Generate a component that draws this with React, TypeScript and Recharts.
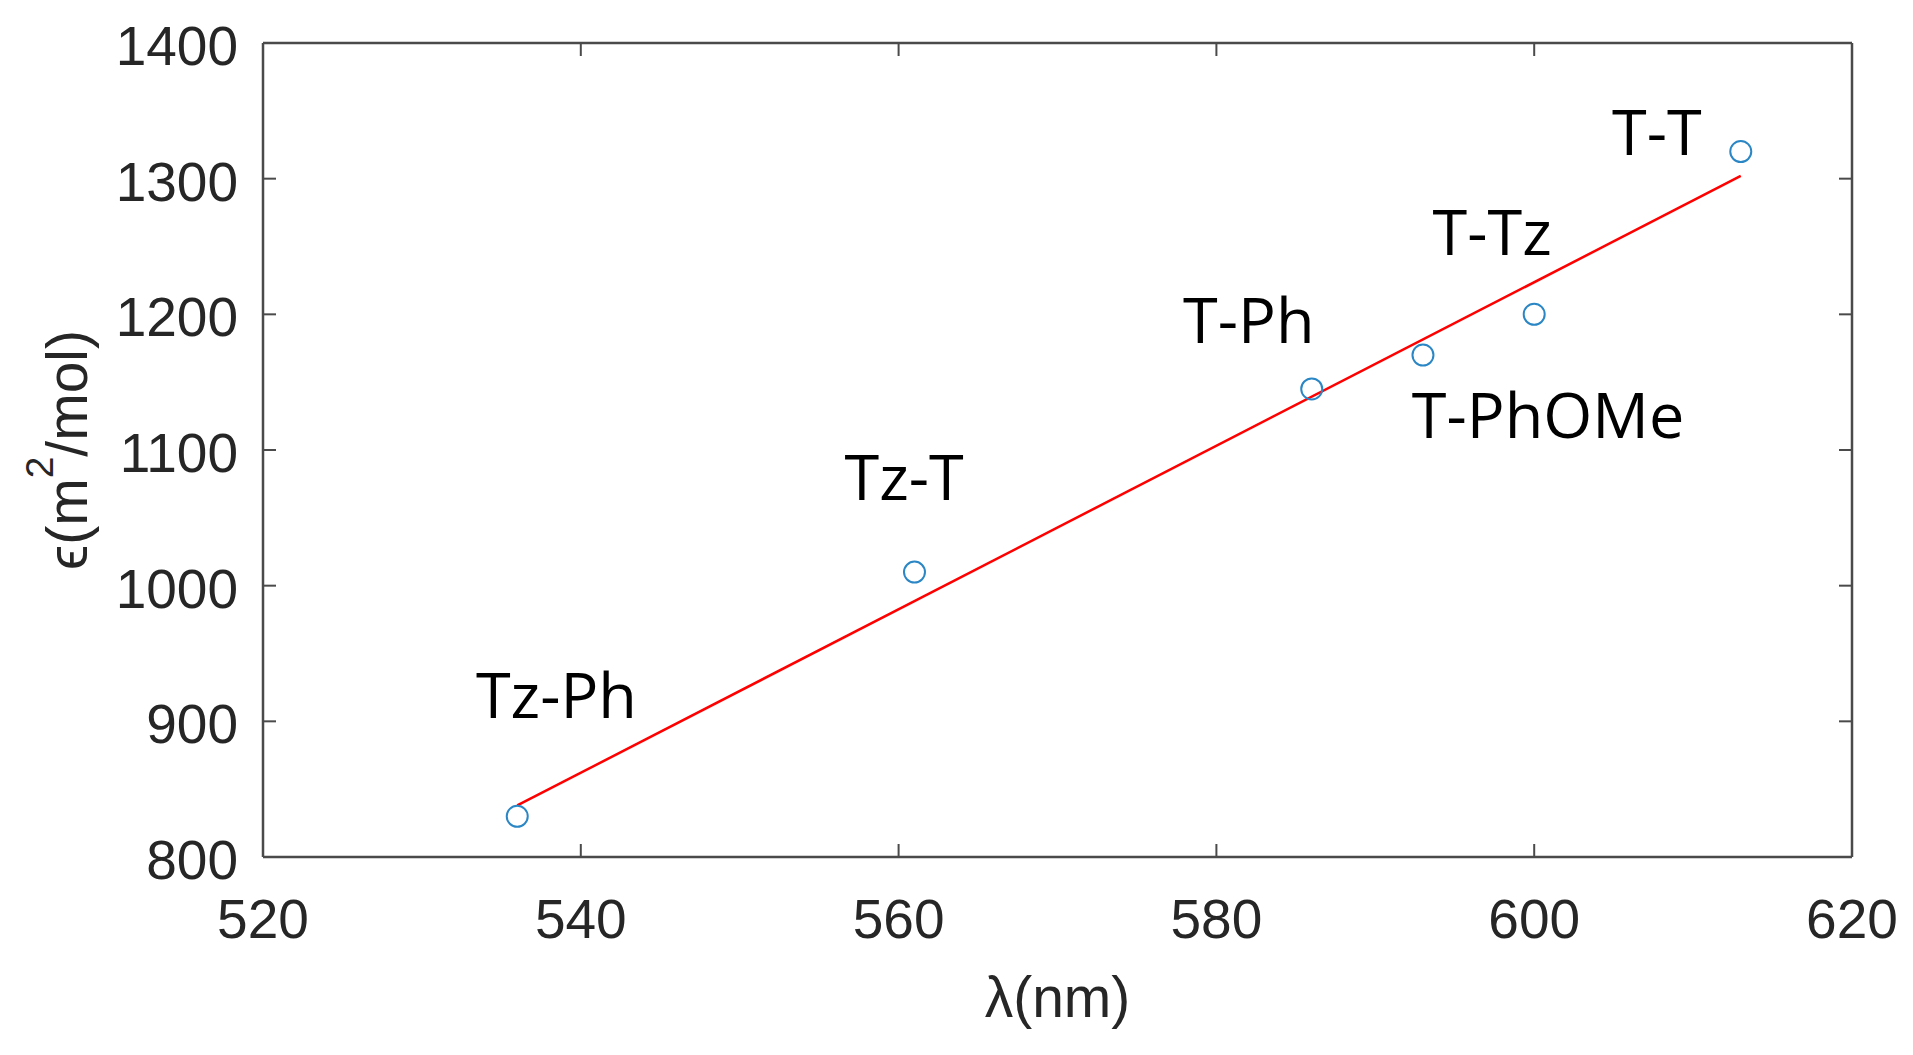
import React from 'react';
import { ScatterChart, Scatter, XAxis, YAxis } from 'recharts';

// measured data
const wavelengths = [536, 561, 586, 593, 600, 613];
const epsilons = [830, 1010, 1145, 1170, 1200, 1320];
// fitted line end points
const fitX = [536, 613];
const fitY = [838, 1302];
// text annotations (anchor in data units: left edge / baseline)
const labelNames = ['Tz-Ph', 'Tz-T', 'T-Ph', 'T-PhOMe', 'T-Tz', 'T-T'];
const labelX = [533.4, 556.6, 577.9, 592.3, 593.6, 604.9];
const labelY = [902.6, 1063.2, 1179, 1109, 1243.8, 1317.5];
// ticks
const xTicks = [520, 540, 560, 580, 600, 620];
const yTicks = [800, 900, 1000, 1100, 1200, 1300, 1400];

const points = wavelengths.map((x, i) => ({ x, y: epsilons[i] }));
const fitLine = fitX.map((x, i) => ({ x, y: fitY[i] }));
const labels = labelNames.map((name, i) => ({ x: labelX[i], y: labelY[i], name }));

const AXIS = '#4a4a4a';
const TEXT = '#262626';
const TICK_FONT = '"Liberation Sans", Arial, sans-serif';
const TL = 13;

const BottomTick = (p: any) => (
  <g>
    <line x1={p.x} y1={p.y} x2={p.x} y2={p.y - TL} stroke={AXIS} strokeWidth={2} />
    <text x={p.x} y={p.y + 81} textAnchor="middle" fontSize={55} fill={TEXT} fontFamily={TICK_FONT}>
      {p.payload.value}
    </text>
  </g>
);
const LeftTick = (p: any) => (
  <g>
    <line x1={p.x} y1={p.y} x2={p.x + TL} y2={p.y} stroke={AXIS} strokeWidth={2} />
    <text x={p.x - 25} y={p.y + 22} textAnchor="end" fontSize={55} fill={TEXT} fontFamily={TICK_FONT}>
      {p.payload.value}
    </text>
  </g>
);
const TopTick = (p: any) => (
  <line x1={p.x} y1={p.y} x2={p.x} y2={p.y + TL} stroke={AXIS} strokeWidth={2} />
);
const RightTick = (p: any) => (
  <line x1={p.x} y1={p.y} x2={p.x - TL} y2={p.y} stroke={AXIS} strokeWidth={2} />
);

const Circle = (p: any) => (
  <circle cx={p.cx} cy={p.cy} r={10.5} fill="none" stroke="#2a86c4" strokeWidth={2} />
);
const Empty = () => <g />;
const Annot = (p: any) => (
  <text x={p.cx} y={p.cy} fontSize={63} fill="#000" fontFamily='"Open Sans", sans-serif'>
    {p.payload.name}
  </text>
);

const YLab = (p: any) => {
  const vb = p.viewBox || { x: 0, y: 35, width: 255, height: 814 };
  const cx = vb.x + 79;
  const cy = vb.y + vb.height / 2;
  return (
    <text x={cx} y={cy} textAnchor="middle" transform={`rotate(-90, ${cx}, ${cy})`} fontSize={57} fill={TEXT} fontFamily={TICK_FONT}>
      ϵ(m<tspan fontSize={39} dy={-34}>2</tspan><tspan dy={34}>/mol)</tspan>
    </text>
  );
};
const XLab = (p: any) => {
  const vb = p.viewBox || { x: 255, y: 849, width: 1589, height: 190 };
  const cx = vb.x + vb.width / 2;
  return (
    <text x={cx} y={vb.y + 160} textAnchor="middle" fontSize={57} fill={TEXT} fontFamily={TICK_FONT}>
      λ(nm)
    </text>
  );
};

export default function App() {
  return (
    <div style={{ width: 1897, height: 1039, background: '#fff' }}>
      <ScatterChart width={1897} height={1039} margin={{ top: 34, right: 52, bottom: 0, left: 0 }}>
        <XAxis
          xAxisId="b"
          dataKey="x"
          type="number"
          domain={[520, 620]}
          ticks={xTicks}
          orientation="bottom"
          height={190}
          axisLine={{ stroke: AXIS, strokeWidth: 2.5 }}
          tickLine={false}
          tickSize={0}
          tickMargin={0}
          tick={<BottomTick />}
          interval={0}
          label={{ content: (props: any) => <XLab {...props} /> }}
        />
        <XAxis
          xAxisId="t"
          dataKey="x"
          type="number"
          domain={[520, 620]}
          ticks={xTicks}
          orientation="top"
          height={1}
          axisLine={{ stroke: AXIS, strokeWidth: 2.5 }}
          tickLine={false}
          tickSize={0}
          tickMargin={0}
          tick={<TopTick />}
          interval={0}
        />
        <YAxis
          yAxisId="l"
          dataKey="y"
          type="number"
          domain={[800, 1400]}
          ticks={yTicks}
          orientation="left"
          width={255}
          axisLine={{ stroke: AXIS, strokeWidth: 2.5 }}
          tickLine={false}
          tickSize={0}
          tickMargin={0}
          tick={<LeftTick />}
          interval={0}
          label={{ content: (props: any) => <YLab {...props} /> }}
        />
        <YAxis
          yAxisId="r"
          dataKey="y"
          type="number"
          domain={[800, 1400]}
          ticks={yTicks}
          orientation="right"
          width={1}
          axisLine={{ stroke: AXIS, strokeWidth: 2.5 }}
          tickLine={false}
          tickSize={0}
          tickMargin={0}
          tick={<RightTick />}
          interval={0}
        />
        <Scatter
          xAxisId="b"
          yAxisId="l"
          data={fitLine}
          line={{ stroke: '#ff0000', strokeWidth: 2.5 }}
          lineType="joint"
          shape={<Empty />}
          isAnimationActive={false}
        />
        <Scatter xAxisId="b" yAxisId="l" data={points} shape={<Circle />} isAnimationActive={false} />
        <Scatter xAxisId="t" yAxisId="r" data={labels} shape={<Annot />} isAnimationActive={false} />
      </ScatterChart>
    </div>
  );
}
